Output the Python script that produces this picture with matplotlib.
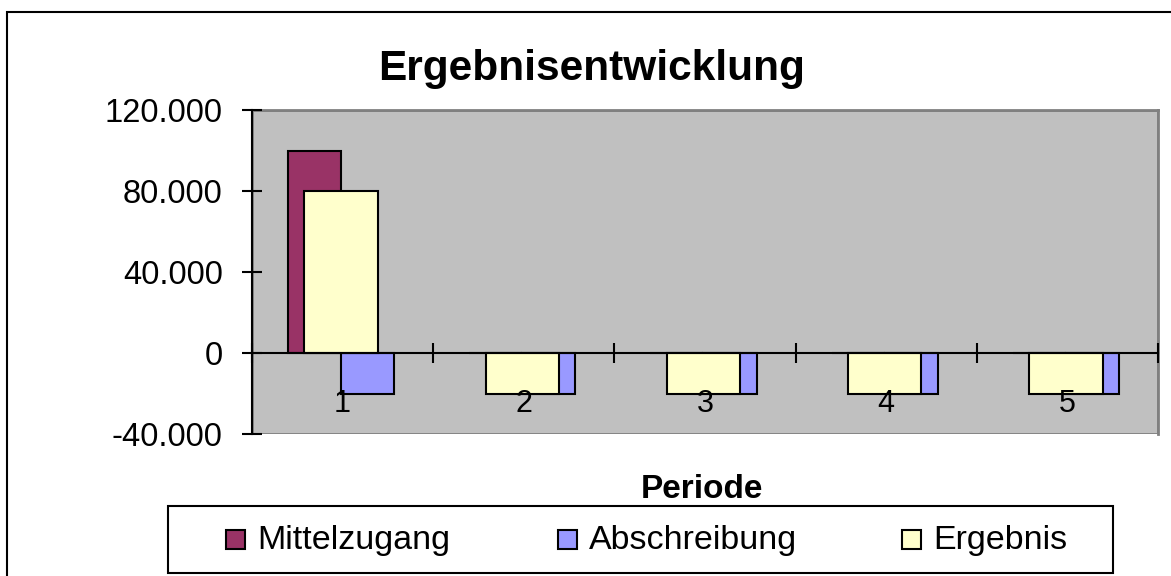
import matplotlib
matplotlib.use("Agg")
import matplotlib.pyplot as plt
from matplotlib.patches import Rectangle
from matplotlib.ticker import FuncFormatter, MultipleLocator
import numpy as np

plt.rcParams["font.family"] = ["Liberation Sans", "DejaVu Sans"]

# data
perioden = [1, 2, 3, 4, 5]
mittelzugang = [100000, 0, 0, 0, 0]
abschreibung = [-20000, -20000, -20000, -20000, -20000]
ergebnis = [80000, -20000, -20000, -20000, -20000]

series = [
    ("Mittelzugang", mittelzugang, "#993366", -0.155, 0.293),
    ("Abschreibung", abschreibung, "#9999FF", 0.138, 0.293),
    ("Ergebnis", ergebnis, "#FFFFCC", -0.008, 0.405),
]

W, H = 1171, 576
fig = plt.figure(figsize=(W / 100, H / 100), dpi=100)
ax = fig.add_axes([252 / W, 1 - 434 / H, (1158 - 252) / W, (434 - 110) / H])
ax.set_facecolor("#C0C0C0")

x = np.array(perioden)
for z, (name, vals, col, off, wd) in enumerate(series):
    ax.bar(x + off, vals, wd, color=col, edgecolor="black", linewidth=1.5, zorder=3 + z)

ax.set_xlim(0.5, 5.5)
ax.set_ylim(-40000, 120000)
ax.yaxis.set_major_locator(MultipleLocator(40000))
ax.yaxis.set_major_formatter(FuncFormatter(lambda v, p: f"{v:,.0f}".replace(",", ".")))
ax.tick_params(axis="y", direction="inout", length=14, width=1.5, pad=14, labelsize=23.5)

# category axis crosses at zero
ax.spines["bottom"].set_position(("data", 0))
ax.spines["bottom"].set_linewidth(1.5)
ax.spines["bottom"].set_zorder(10)
ax.spines["left"].set_linewidth(1.5)
ax.spines["left"].set_zorder(10)
for s in ("top", "right"):
    ax.spines[s].set_color("#808080")
    ax.spines[s].set_linewidth(2)
ax.add_patch(Rectangle((0, 0), 1, 1, transform=ax.transAxes, fill=False,
                       edgecolor="#808080", linewidth=2, zorder=1))

ax.set_xticks(np.arange(0.5, 6, 1))
ax.set_xticklabels([])
ax.set_xticks(x, [str(p) for p in perioden], minor=True)
ax.tick_params(axis="x", which="major", direction="inout", length=14, width=1.5)
ax.tick_params(axis="x", which="minor", length=0, pad=26, labelsize=22)
ax.xaxis.set_zorder(12)
ax.yaxis.set_zorder(12)

fig.text(592 / W, 1 - 80 / H, "Ergebnisentwicklung", ha="center", va="baseline",
         fontsize=30.5, fontweight="bold")
fig.text(702 / W, 1 - 498 / H, "Periode", ha="center", va="baseline",
         fontsize=24, fontweight="bold")

# outer chart frame
fig.patches.append(Rectangle((7 / W, -0.1), 1.2, 1 - 12 / H + 0.1, transform=fig.transFigure,
                             fill=False, edgecolor="black", linewidth=1.5))

# legend box
fig.patches.append(Rectangle((168 / W, 1 - 573 / H), (1113 - 168) / W, (573 - 506) / H,
                             transform=fig.transFigure, facecolor="white",
                             edgecolor="black", linewidth=1.5))
leg_x = [226, 558, 902]
for (name, vals, col, off, wd), lx in zip(series, leg_x):
    fig.patches.append(Rectangle((lx / W, 1 - 549 / H), 19 / W, 19 / H,
                                 transform=fig.transFigure, facecolor=col,
                                 edgecolor="black", linewidth=1.5))
    fig.text((lx + 31) / W, 1 - 549 / H, name, ha="left", va="baseline", fontsize=24.5)

fig.savefig("out.png", dpi=100)
